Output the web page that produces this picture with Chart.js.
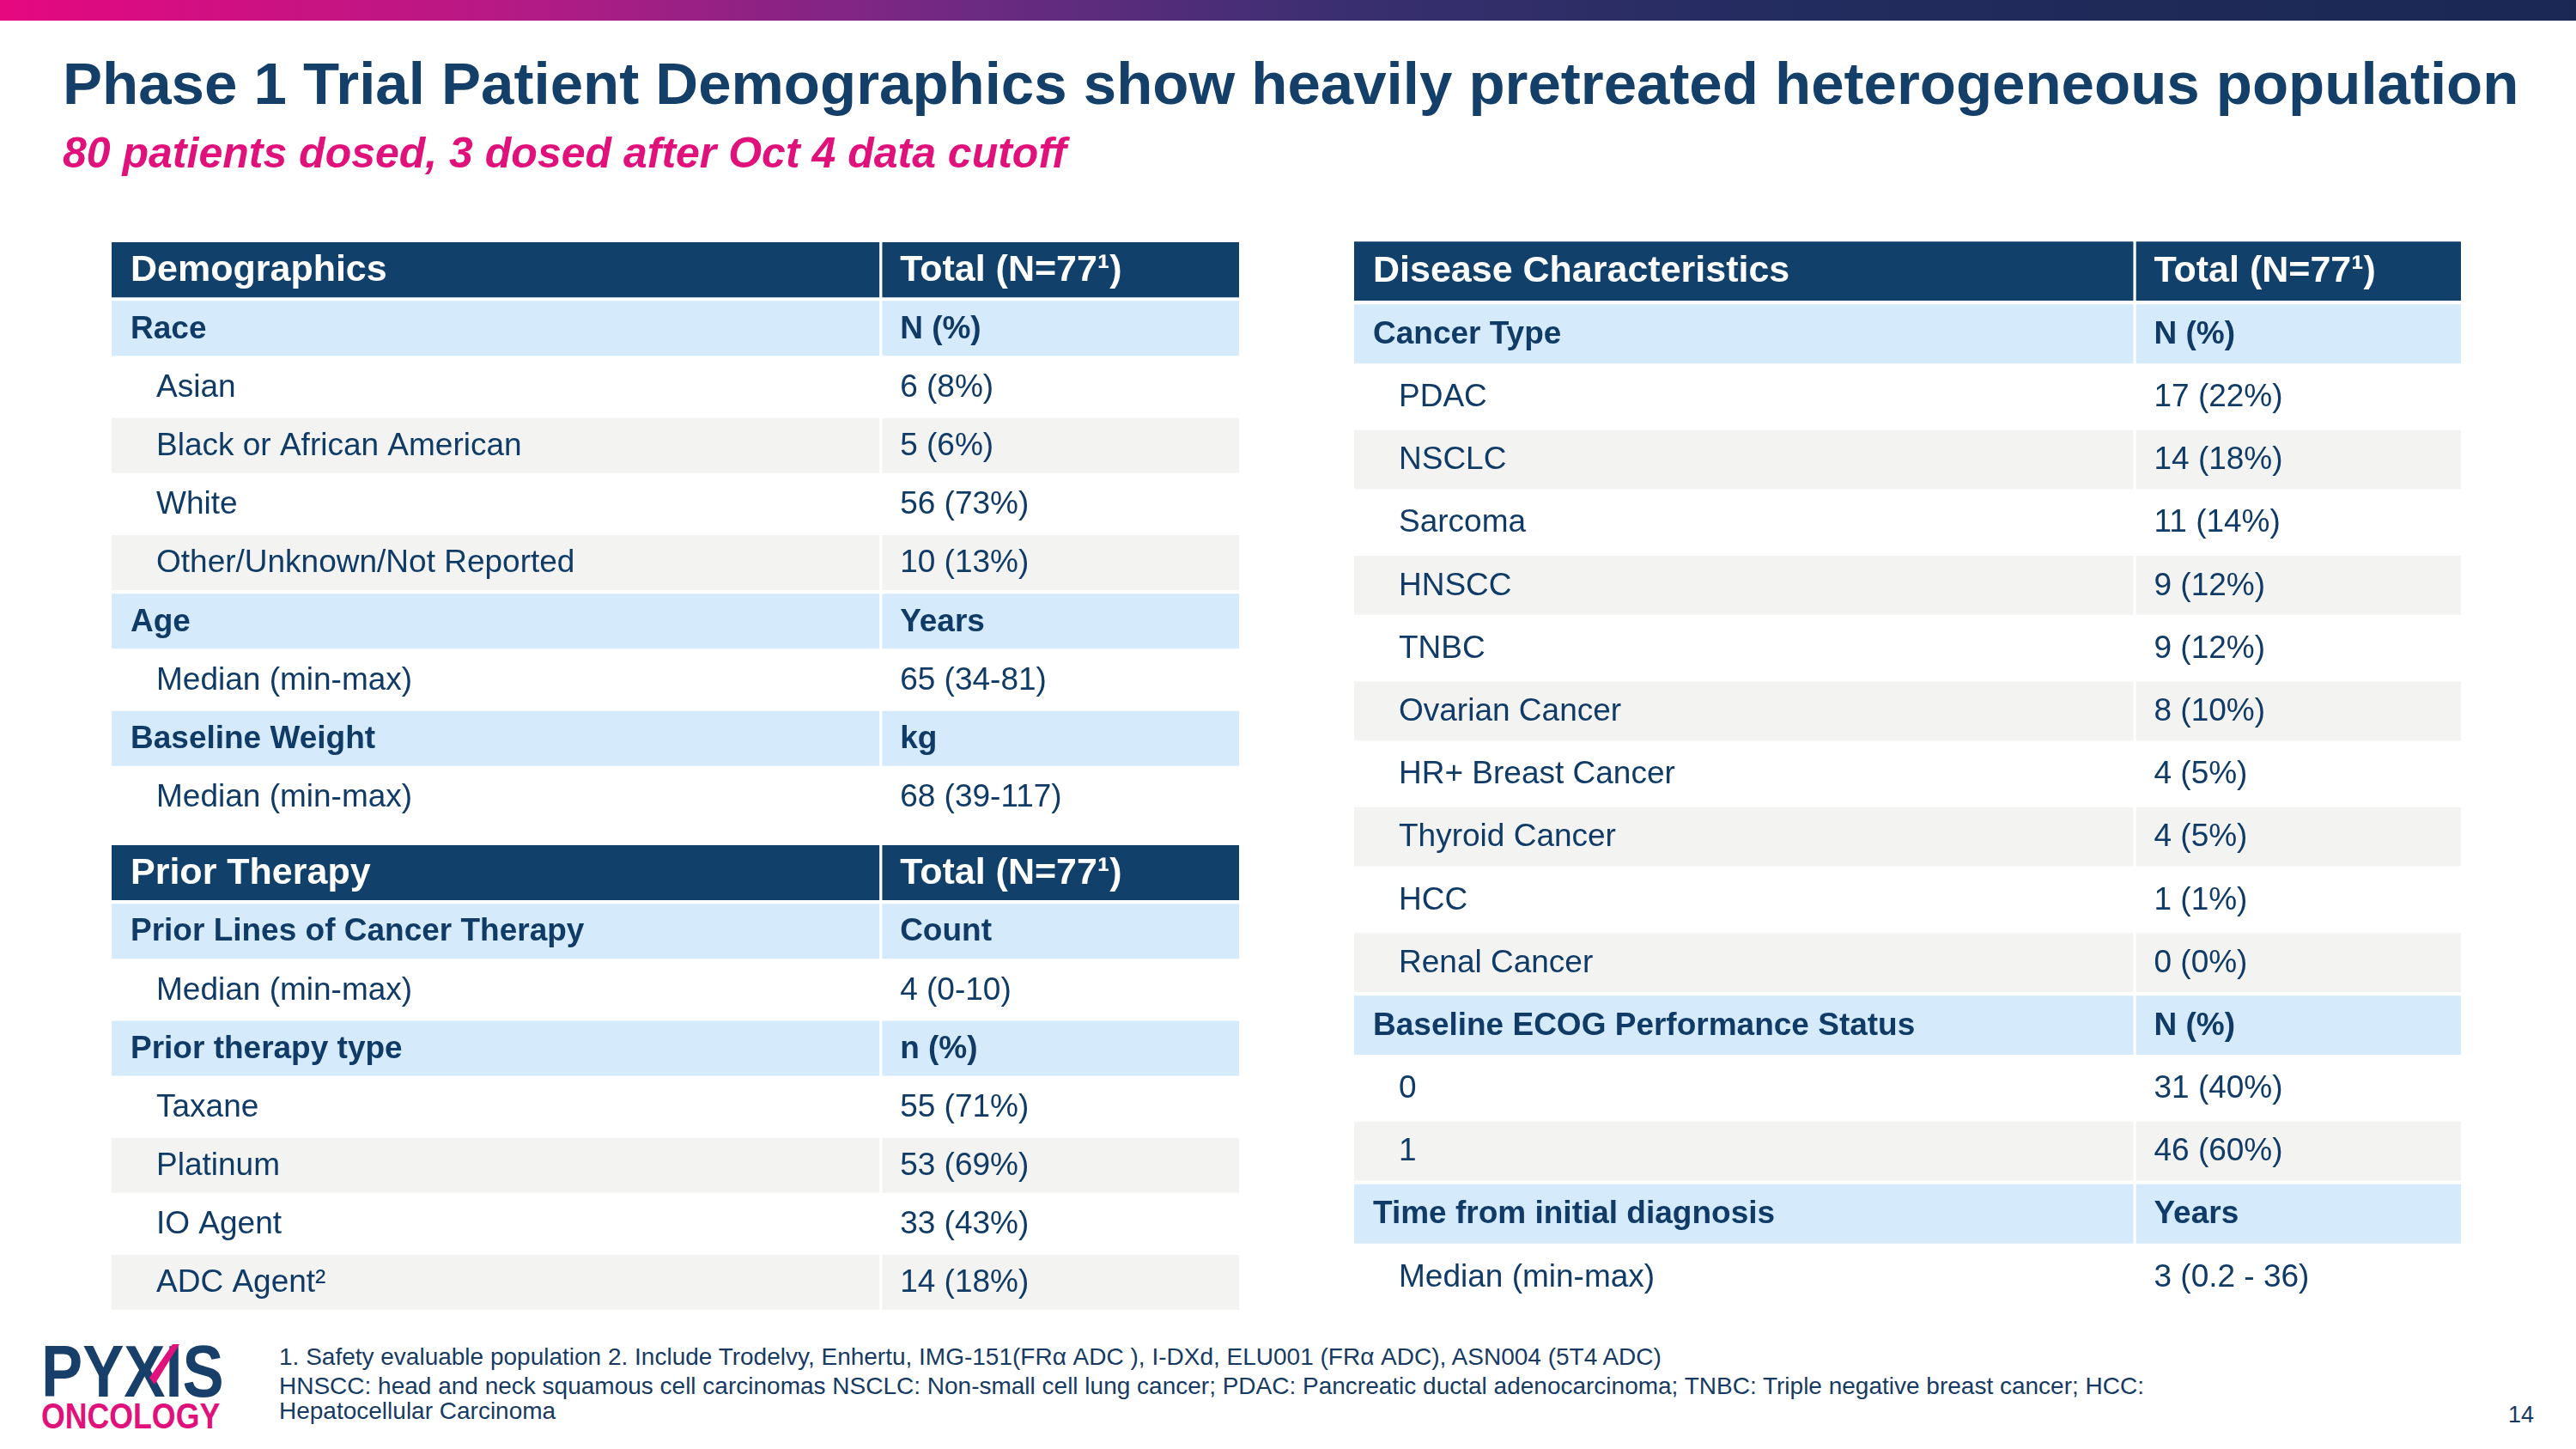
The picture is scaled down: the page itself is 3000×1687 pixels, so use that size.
<!DOCTYPE html>
<html>
<head>
<meta charset="utf-8">
<script src="https://cdn.jsdelivr.net/npm/chart.js@4.4.0/dist/chart.umd.min.js"></script>
<style>
  html, body { margin: 0; padding: 0; background: #fff; }
  body { width: 3000px; height: 1687px; position: relative; overflow: hidden; font-family: "Liberation Sans", Arial, sans-serif; }
  .band { position: absolute; left: 0; top: 0; width: 3000px; height: 24px;
    background: linear-gradient(90deg, #e5087f 0%, #b51a85 20%, #6c2a83 38%, #3a2f70 52%, #222c5e 70%, #1b2753 100%); }
  .txt { position: absolute; white-space: nowrap; line-height: 1; }
  .title { left: 73px; top: 63px; font-size: 69px; font-weight: bold; color: #133f69; }
  .subtitle { left: 73px; top: 153px; font-size: 50px; font-weight: bold; font-style: italic; color: #e0117b; }
  .note { left: 325px; font-size: 28px; color: #173a63; }
  .page { left: 2921px; top: 1634px; font-size: 27px; color: #173a63; }
  canvas { position: absolute; }
  .logo1 { left: 48px; top: 1553px; font-size: 86px; font-weight: bold; color: #173f6a; transform: scaleX(0.84); transform-origin: left top; }
  .logo2 { left: 48px; top: 1627px; font-size: 43px; font-weight: bold; color: #e0117b; transform: scaleX(0.83); transform-origin: left top; }
  .slash { position: absolute; left: 0; top: 0; width: 300px; height: 1687px; background: #e0117b;
    clip-path: polygon(201px 1565px, 209px 1565px, 180px 1612px, 174px 1604px); }
</style>
</head>
<body>
<div class="band"></div>
<div class="txt title">Phase 1 Trial Patient Demographics show heavily pretreated heterogeneous population</div>
<div class="txt subtitle">80 patients dosed, 3 dosed after Oct 4 data cutoff</div>

<canvas id="demoChart" width="1313" height="682" style="left:130px;top:280px"></canvas>
<canvas id="priorChart" width="1313" height="545" style="left:130px;top:982px"></canvas>
<canvas id="diseaseChart" width="1289" height="1244" style="left:1577px;top:279px"></canvas>

<div class="txt logo1">PYXIS</div>
<div class="slash"></div>
<div class="txt logo2">ONCOLOGY</div>
<div class="txt note" style="top:1566px">1. Safety evaluable population 2. Include Trodelvy, Enhertu, IMG-151(FRα ADC ), I-DXd, ELU001 (FRα ADC), ASN004 (5T4 ADC)</div>
<div class="txt note" style="top:1600px">HNSCC: head and neck squamous cell carcinomas NSCLC: Non-small cell lung cancer; PDAC: Pancreatic ductal adenocarcinoma; TNBC: Triple negative breast cancer; HCC:</div>
<div class="txt note" style="top:1629px">Hepatocellular Carcinoma</div>
<div class="txt page">14</div>

<script>
// table rows: label, value, kind (head / sub / item)
const demoLabels = ['Demographics', 'Race', 'Asian', 'Black or African American', 'White', 'Other/Unknown/Not Reported', 'Age', 'Median (min-max)', 'Baseline Weight', 'Median (min-max)'];
const demoValues = ['Total (N=77\u00b9)', 'N (%)', '6 (8%)', '5 (6%)', '56 (73%)', '10 (13%)', 'Years', '65 (34-81)', 'kg', '68 (39-117)'];
const demoKinds = ['head', 'sub', 'item', 'item', 'item', 'item', 'sub', 'item', 'sub', 'item'];

const priorLabels = ['Prior Therapy', 'Prior Lines of Cancer Therapy', 'Median (min-max)', 'Prior therapy type', 'Taxane', 'Platinum', 'IO Agent', 'ADC Agent\u00b2'];
const priorValues = ['Total (N=77\u00b9)', 'Count', '4 (0-10)', 'n (%)', '55 (71%)', '53 (69%)', '33 (43%)', '14 (18%)'];
const priorKinds = ['head', 'sub', 'item', 'sub', 'item', 'item', 'item', 'item'];

const diseaseLabels = ['Disease Characteristics', 'Cancer Type', 'PDAC', 'NSCLC', 'Sarcoma', 'HNSCC', 'TNBC', 'Ovarian Cancer', 'HR+ Breast Cancer', 'Thyroid Cancer', 'HCC', 'Renal Cancer', 'Baseline ECOG Performance Status', '0', '1', 'Time from initial diagnosis', 'Median (min-max)'];
const diseaseValues = ['Total (N=77\u00b9)', 'N (%)', '17 (22%)', '14 (18%)', '11 (14%)', '9 (12%)', '9 (12%)', '8 (10%)', '4 (5%)', '4 (5%)', '1 (1%)', '0 (0%)', 'N (%)', '31 (40%)', '46 (60%)', 'Years', '3 (0.2 - 36)'];
const diseaseKinds = ['head', 'sub', 'item', 'item', 'item', 'item', 'item', 'item', 'item', 'item', 'item', 'item', 'sub', 'item', 'item', 'sub', 'item'];

const NAVY = '#11416b';
const TEXT = '#103b66';
const SUB = '#d5eafa';
const GREY = '#f3f3f2';
const FONT = '"Liberation Sans", Arial, sans-serif';

function rowFills(kinds) {
  let n = 0;
  return kinds.map(k => {
    if (k === 'head') { n = 0; return NAVY; }
    if (k === 'sub') { n = 0; return SUB; }
    return (n++ % 2) ? GREY : '#ffffff';
  });
}

// writes the cell texts at the positions given by the scales
const cellText = {
  id: 'cellText',
  afterDatasetsDraw(chart) {
    const o = chart.options.plugins.cellText;
    const { ctx, scales: { x, y } } = chart;
    ctx.save();
    ctx.textBaseline = 'middle';
    o.labels.forEach((lab, i) => {
      const k = o.kinds[i];
      const yy = y.getPixelForValue(i) + 1;
      if (k === 'head') { ctx.font = 'bold 43px ' + FONT; ctx.fillStyle = '#ffffff'; }
      else if (k === 'sub') { ctx.font = 'bold 37px ' + FONT; ctx.fillStyle = TEXT; }
      else { ctx.font = '37px ' + FONT; ctx.fillStyle = TEXT; }
      const indent = k === 'item' ? o.itemIndent : o.subIndent;
      ctx.fillText(lab, x.getPixelForValue(0) + indent, yy);
      ctx.fillText(o.values[i], x.getPixelForValue(o.split) + o.valIndent, yy);
    });
    ctx.restore();
  }
};

function makeTable(id, labels, values, kinds, split, gap) {
  const fills = rowFills(kinds);
  new Chart(document.getElementById(id), {
    type: 'bar',
    data: {
      labels: labels,
      datasets: [
        { data: labels.map(() => [0, split]), backgroundColor: fills, borderWidth: 0 },
        { data: labels.map(() => [split + gap, 1]), backgroundColor: fills, borderWidth: 0 }
      ]
    },
    options: {
      indexAxis: 'y',
      responsive: false,
      animation: false,
      events: [],
      layout: { padding: 0 },
      barPercentage: 0.94,
      categoryPercentage: 1,
      scales: {
        x: { type: 'linear', min: 0, max: 1, display: false },
        y: { type: 'category', display: false, stacked: true, offset: true }
      },
      plugins: {
        legend: { display: false },
        tooltip: { enabled: false },
        cellText: { labels: labels, values: values, kinds: kinds, split: split, subIndent: 22, itemIndent: 52, valIndent: 24 }
      }
    },
    plugins: [cellText]
  });
}

makeTable('demoChart', demoLabels, demoValues, demoKinds, 0.681, 0.0025);
makeTable('priorChart', priorLabels, priorValues, priorKinds, 0.681, 0.0025);
makeTable('diseaseChart', diseaseLabels, diseaseValues, diseaseKinds, 0.704, 0.0025);
</script>
</body>
</html>
